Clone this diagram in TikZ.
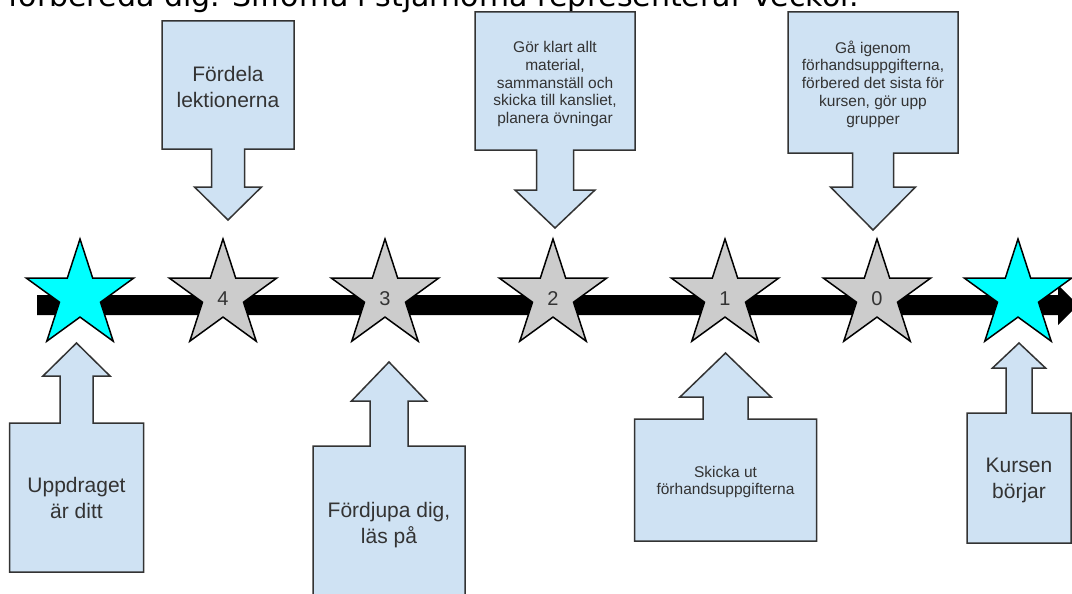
\documentclass[tikz,border=0pt]{standalone}
\usepackage{fontspec}
\setmainfont{Liberation Sans}
\newfontfamily\topfont{DejaVu Sans}
\usetikzlibrary{shapes.geometric,calc}
\definecolor{boxblue}{RGB}{207,226,243}
\definecolor{boxline}{RGB}{51,51,51}
\definecolor{txt}{RGB}{51,51,51}
\definecolor{stargray}{RGB}{204,204,204}
\definecolor{starcyan}{RGB}{0,255,255}
% cx, box half width, box far edge y, box near edge y, stem half width, stem end y, head half width, tip y
\newcommand\mycallout[8]{%
  \draw[callout] ({#1-#2},#3) -- ({#1+#2},#3) -- ({#1+#2},#4) -- ({#1+#5},#4) -- ({#1+#5},#6) -- ({#1+#7},#6) -- (#1,#8) -- ({#1-#7},#6) -- ({#1-#5},#6) -- ({#1-#5},#4) -- ({#1-#2},#4) -- cycle;}
\begin{document}
\begin{tikzpicture}[x=1pt,y=-1pt,
  starshape/.style={star, star points=5, star point ratio=2.618, minimum size=113pt, inner sep=0pt, draw=black, line width=1.5pt},
  weekstar/.style={starshape, fill=stargray},
  endstar/.style={starshape, fill=starcyan},
  numlabel/.style={font=\fontsize{20}{20}\selectfont, text=txt, inner sep=0pt},
  callout/.style={draw=boxline, fill=boxblue, line width=1.5pt, line join=miter},
  bigtext/.style={align=center, text=txt, font=\fontsize{21}{26}\selectfont, inner sep=0pt},
  smalltext/.style={align=center, text=txt, font=\fontsize{15.5}{17.8}\selectfont, inner sep=0pt},
]
\clip (0,0) rectangle (1072,594);
\fill[white] (0,0) rectangle (1072,594);

% title (cut at the top, as in the reference)
\node[anchor=base west, inner sep=0pt, font=\topfont\fontsize{30}{30}\selectfont] (title) at (8,7) {förbereda dig. Sifforna i stjärnorna representerar veckor.};

% timeline bar
\coordinate (barstart) at (37,305);
\coordinate (barend) at (1078,305);
\fill[black] (37,295) -- (1058,295) -- (1058,285) -- (barend) -- (1058,325) -- (1058,315) -- (37,315) -- cycle;

% stars
\node[endstar] (sA) at (80,295.5) {};
\node[weekstar] (s4) at (223,295.5) {};
\node[weekstar] (s3) at (385,295.5) {};
\node[weekstar] (s2) at (553,295.5) {};
\node[weekstar] (s1) at (725,295.5) {};
\node[weekstar] (s0) at (877,295.5) {};
\node[endstar] (sB) at (1018,295.5) {};
\node[numlabel] (n4) at (223,299) {4};
\node[numlabel] (n3) at (385,299) {3};
\node[numlabel] (n2) at (553,299) {2};
\node[numlabel] (n1) at (725,299) {1};
\node[numlabel] (n0) at (877,299) {0};

% down callouts
\mycallout{228}{66}{21}{149}{16.5}{187}{33.5}{220}
\mycallout{555}{80}{12}{150}{18.5}{190}{40}{228}
\mycallout{873}{85}{12}{153}{20.5}{187}{42.5}{230}
% up callouts
\mycallout{76.5}{67}{572}{423}{16.5}{376}{33.5}{343}
\mycallout{389}{76}{620}{446}{19}{401}{37.5}{362}
\mycallout{725.5}{91}{541}{419}{22.5}{397}{45.5}{353}
\mycallout{1019}{52}{543}{413}{13}{368}{26.5}{343}

% callout texts
\node[bigtext] (c1) at (228,87) {Fördela\\lektionerna};
\node[smalltext] (c2) at (555,84) {Gör klart allt\\material,\\sammanställ och\\skicka till kansliet,\\planera övningar};
\node[smalltext] (c3) at (873,84) {Gå igenom\\förhandsuppgifterna,\\förbered det sista för\\kursen, gör upp\\grupper};
\node[bigtext] (c4) at (76.5,498) {Uppdraget\\är ditt};
\node[bigtext] (c5) at (389,525) {Fördjupa dig,\\läs på};
\node[smalltext] (c6) at (725.5,482) {Skicka ut\\förhandsuppgifterna};
\node[bigtext] (c7) at (1019,480) {Kursen\\börjar};
\end{tikzpicture}
\end{document}
